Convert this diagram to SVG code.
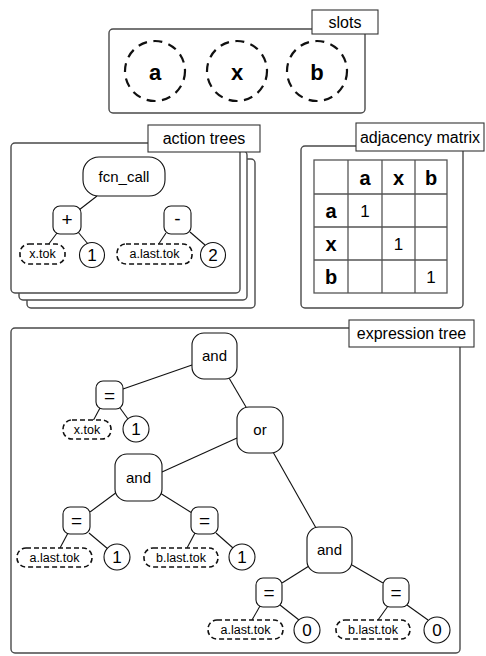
<svg xmlns="http://www.w3.org/2000/svg" width="486" height="656" viewBox="0 0 486 656">
  <style>
    text { font-family: "Liberation Sans", Arial, sans-serif; fill: #000; text-anchor: middle; dominant-baseline: central; }
    .panel { fill: #fff; stroke: #4a4a4a; stroke-width: 1.4; }
    .tag { fill: #fff; stroke: #333; stroke-width: 1.1; }
    .tagtxt { font-size: 16px; }
    .slot { fill: none; stroke: #111; stroke-width: 2.2; stroke-dasharray: 9 6.5; }
    .slottxt { font-size: 22px; font-weight: bold; }
    .op { fill: #fff; stroke: #111; stroke-width: 1.1; }
    .leaf { fill: #fff; stroke: #111; stroke-width: 1.6; stroke-dasharray: 5 3; }
    .num { fill: #fff; stroke: #111; stroke-width: 1.1; }
    .optxt { font-size: 15px; }
    .symtxt { font-size: 19px; }
    .numtxt { font-size: 17px; }
    .leaftxt { font-size: 12.5px; }
    .edge { stroke: #111; stroke-width: 1.1; fill: none; }
    .grid { stroke: #555; stroke-width: 1.3; fill: none; }
    .hdr { font-size: 20px; font-weight: bold; }
    .cell { font-size: 17px; }
  </style>

  <!-- slots panel -->
  <g id="slots">
    <rect class="panel" x="109" y="29" width="256" height="84" rx="4"/>
    <rect class="tag" x="312" y="10" width="66" height="24"/>
    <text class="tagtxt" x="345" y="22">slots</text>
    <g id="slot-a">
      <circle class="slot" cx="155" cy="71" r="30"/>
      <text class="slottxt" x="155" y="72">a</text>
    </g>
    <g id="slot-x">
      <circle class="slot" cx="237" cy="71" r="30"/>
      <text class="slottxt" x="237" y="72">x</text>
    </g>
    <g id="slot-b">
      <circle class="slot" cx="317" cy="71" r="30"/>
      <text class="slottxt" x="317" y="72">b</text>
    </g>
  </g>

  <!-- action trees panel: stacked sheets -->
  <g id="action-trees">
    <rect class="panel" x="27" y="159" width="228" height="149" rx="4"/>
    <rect class="panel" x="19" y="151" width="228" height="149" rx="4"/>
    <rect class="panel" x="11" y="143" width="229" height="150" rx="4"/>
    <rect class="tag" x="148" y="125" width="112" height="27"/>
    <text class="tagtxt" x="204" y="138.5">action trees</text>
  </g>

  <!-- adjacency matrix panel -->
  <g id="adjacency-matrix">
    <rect class="panel" x="301" y="146" width="162" height="162" rx="4"/>
    <rect class="tag" x="356" y="123" width="128" height="28"/>
    <text class="tagtxt" x="420" y="137">adjacency matrix</text>
    <g class="grid">
      <rect x="314" y="160" width="133" height="133"/>
      <line x1="348" y1="160" x2="348" y2="293"/>
      <line x1="382" y1="160" x2="382" y2="293"/>
      <line x1="415" y1="160" x2="415" y2="293"/>
      <line x1="314" y1="194" x2="447" y2="194"/>
      <line x1="314" y1="227" x2="447" y2="227"/>
      <line x1="314" y1="260" x2="447" y2="260"/>
    </g>
    <text class="hdr" x="365" y="178">a</text>
    <text class="hdr" x="398.5" y="178">x</text>
    <text class="hdr" x="431" y="178">b</text>
    <text class="hdr" x="331" y="211">a</text>
    <text class="hdr" x="331" y="244">x</text>
    <text class="hdr" x="331" y="277">b</text>
    <text class="cell" x="365" y="211">1</text>
    <text class="cell" x="398.5" y="244">1</text>
    <text class="cell" x="431" y="277">1</text>
  </g>

  <!-- expression tree panel -->
  <g id="expression-tree-panel">
    <rect class="panel" x="11" y="328" width="449" height="325" rx="4"/>
    <rect class="tag" x="349" y="320" width="125" height="27"/>
    <text class="tagtxt" x="411.5" y="333.5">expression tree</text>
  </g>

  <!-- connectors -->
  <g id="connectors" class="edge">
    <!-- action trees -->
    <line x1="97" y1="196" x2="79" y2="210"/>
    <line x1="57" y1="233" x2="48" y2="245"/>
    <line x1="78" y1="232" x2="88" y2="244"/>
    <line x1="166" y1="233" x2="158" y2="245"/>
    <line x1="190" y1="232" x2="205" y2="245"/>
    <!-- expression tree -->
    <line x1="192" y1="365" x2="123" y2="389"/>
    <line x1="229" y1="378" x2="246" y2="407"/>
    <line x1="100" y1="408" x2="93" y2="421"/>
    <line x1="120" y1="408" x2="128" y2="419"/>
    <line x1="237" y1="438" x2="162" y2="472"/>
    <line x1="273" y1="452" x2="316" y2="528"/>
    <line x1="117" y1="492" x2="90" y2="512"/>
    <line x1="160" y1="493" x2="192" y2="513"/>
    <line x1="68" y1="533" x2="60" y2="548"/>
    <line x1="89" y1="533" x2="108" y2="549"/>
    <line x1="195" y1="533" x2="187" y2="548"/>
    <line x1="216" y1="533" x2="233" y2="548"/>
    <line x1="309" y1="566" x2="282" y2="583"/>
    <line x1="352" y1="565" x2="383" y2="583"/>
    <line x1="260" y1="606" x2="252" y2="620"/>
    <line x1="280" y1="605" x2="299" y2="620"/>
    <line x1="388" y1="606" x2="378" y2="620"/>
    <line x1="407" y1="605" x2="428" y2="620"/>
  </g>

  <!-- action tree nodes -->
  <g id="at-fcn-call">
    <rect class="op" x="83" y="157" width="82" height="39" rx="16"/>
    <text class="optxt" x="124" y="176.5">fcn_call</text>
  </g>
  <g id="at-plus">
    <rect class="op" x="53" y="206" width="28" height="28" rx="7"/>
    <text class="symtxt" x="67" y="219">+</text>
  </g>
  <g id="at-minus">
    <rect class="op" x="164" y="206" width="27" height="28" rx="7"/>
    <text class="symtxt" x="177.5" y="218">-</text>
  </g>
  <g id="at-x-tok">
    <rect class="leaf" x="20" y="244" width="45" height="20" rx="9"/>
    <text class="leaftxt" x="42.5" y="254">x.tok</text>
  </g>
  <g id="at-one">
    <circle class="num" cx="92" cy="255" r="12.5"/>
    <text class="numtxt" x="92" y="255.5">1</text>
  </g>
  <g id="at-a-last-tok">
    <rect class="leaf" x="117" y="244" width="75" height="20" rx="9"/>
    <text class="leaftxt" x="154.5" y="254">a.last.tok</text>
  </g>
  <g id="at-two">
    <circle class="num" cx="213" cy="255" r="12.5"/>
    <text class="numtxt" x="213" y="255.5">2</text>
  </g>

  <!-- expression tree nodes -->
  <g id="et-and-root">
    <rect class="op" x="192" y="333" width="45" height="46" rx="12"/>
    <text class="optxt" x="214.5" y="355">and</text>
  </g>
  <g id="et-eq-x">
    <rect class="op" x="96" y="381" width="27" height="28" rx="7"/>
    <text class="symtxt" x="109.5" y="395">=</text>
  </g>
  <g id="et-x-tok">
    <rect class="leaf" x="63" y="420" width="48" height="19" rx="9"/>
    <text class="leaftxt" x="87" y="429.5">x.tok</text>
  </g>
  <g id="et-one-x">
    <circle class="num" cx="136" cy="429" r="13"/>
    <text class="numtxt" x="136" y="429.5">1</text>
  </g>
  <g id="et-or">
    <rect class="op" x="237" y="407" width="46" height="46" rx="12"/>
    <text class="optxt" x="260" y="429">or</text>
  </g>
  <g id="et-and-left">
    <rect class="op" x="115" y="454" width="47" height="47" rx="12"/>
    <text class="optxt" x="138.5" y="477">and</text>
  </g>
  <g id="et-eq-a1">
    <rect class="op" x="63" y="507" width="27" height="27" rx="7"/>
    <text class="symtxt" x="76.5" y="520.5">=</text>
  </g>
  <g id="et-a-last-tok-1">
    <rect class="leaf" x="17" y="548" width="75" height="19" rx="9"/>
    <text class="leaftxt" x="54.5" y="557.5">a.last.tok</text>
  </g>
  <g id="et-one-a">
    <circle class="num" cx="117" cy="557" r="13"/>
    <text class="numtxt" x="117" y="557.5">1</text>
  </g>
  <g id="et-eq-b1">
    <rect class="op" x="191" y="507" width="27" height="27" rx="7"/>
    <text class="symtxt" x="204.5" y="520.5">=</text>
  </g>
  <g id="et-b-last-tok-1">
    <rect class="leaf" x="144" y="548" width="74" height="19" rx="9"/>
    <text class="leaftxt" x="181" y="557.5">b.last.tok</text>
  </g>
  <g id="et-one-b">
    <circle class="num" cx="242" cy="557" r="13"/>
    <text class="numtxt" x="242" y="557.5">1</text>
  </g>
  <g id="et-and-right">
    <rect class="op" x="307" y="527" width="45" height="46" rx="12"/>
    <text class="optxt" x="329.5" y="549">and</text>
  </g>
  <g id="et-eq-a2">
    <rect class="op" x="256" y="578" width="26" height="29" rx="7"/>
    <text class="symtxt" x="269" y="592">=</text>
  </g>
  <g id="et-a-last-tok-2">
    <rect class="leaf" x="208" y="620" width="75" height="19" rx="9"/>
    <text class="leaftxt" x="245.5" y="629.5">a.last.tok</text>
  </g>
  <g id="et-zero-a">
    <circle class="num" cx="307" cy="630" r="13"/>
    <text class="numtxt" x="307" y="630.5">0</text>
  </g>
  <g id="et-eq-b2">
    <rect class="op" x="383" y="578" width="26" height="29" rx="7"/>
    <text class="symtxt" x="396" y="592">=</text>
  </g>
  <g id="et-b-last-tok-2">
    <rect class="leaf" x="336" y="620" width="74" height="19" rx="9"/>
    <text class="leaftxt" x="373" y="629.5">b.last.tok</text>
  </g>
  <g id="et-zero-b">
    <circle class="num" cx="437" cy="630" r="13"/>
    <text class="numtxt" x="437" y="630.5">0</text>
  </g>
</svg>
